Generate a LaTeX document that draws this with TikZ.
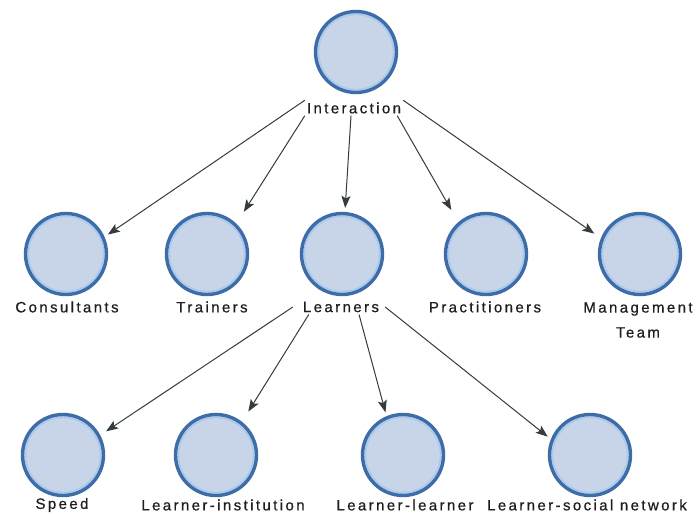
\documentclass[tikz,border=0pt]{standalone}
\usepackage{fontspec}
\setmainfont{Liberation Sans}[LetterSpace=16,FakeBold=0.6]
\usetikzlibrary{arrows.meta}
\definecolor{bubfill}{RGB}{200,213,232}
\definecolor{bubedge}{RGB}{62,108,166}
\definecolor{bubring}{RGB}{168,202,238}
\definecolor{arrowc}{RGB}{52,60,62}
\definecolor{txt}{RGB}{30,30,30}
\begin{document}
\begin{tikzpicture}[x=1pt,y=-1pt,
  bub/.style={circle, minimum size=81pt, inner sep=0pt, fill=bubfill, draw=bubedge, line width=3.4pt,
    path picture={\draw[bubring, line width=1.6pt] (path picture bounding box.center) circle (37.6pt);}},
  lab/.style={font=\fontsize{15}{17}\selectfont, text=txt, inner sep=2pt, align=center},
  arr/.style={draw=arrowc, line width=1pt, -{Stealth[length=12pt,width=9pt,inset=2.5pt]}}
]
\useasboundingbox (0,0) rectangle (697,516);
\fill[white] (0,0) rectangle (697,516);

% circles
\node[bub] (int) at (356,52) {};
\node[bub] (con) at (66,254) {};
\node[bub] (tra) at (207,254) {};
\node[bub] (lea) at (342,254) {};
\node[bub] (pra) at (486,254) {};
\node[bub] (man) at (640,254) {};
\node[bub] (spe) at (63,455) {};
\node[bub] (lin) at (216,455) {};
\node[bub] (lle) at (403,455) {};
\node[bub] (lsn) at (590,455) {};

% labels
\node[lab] (intl) at (354,108) {Interaction};
\node[lab] (conl) at (67,307) {Consultants};
\node[lab] (tral) at (212,307) {Trainers};
\node[lab] (leal) at (341,307) {Learners};
\node[lab] (pral) at (485,307) {Practitioners};
\node[lab] (manl) at (638,320) {Management\\[8pt]Team};
\node[lab, inner sep=1pt] (spel) at (62,505) {Speed};
\node[lab, inner sep=1pt] (linl) at (223,505) {Learner-institution};
\node[lab, inner sep=1pt] (llel) at (405,505) {Learner-learner};
\node[lab, inner sep=1pt] (lsnl) at (587,505) {Learner-social network};

% arrows from Interaction
\draw[arr, shorten >=4pt] (intl.north west) -- (con.24);
\draw[arr, shorten >=14pt] (intl.south west) -- (tra.46);
\draw[arr, shorten >=4pt] ([xshift=-3pt]intl.south) -- (lea.86);
\draw[arr, shorten >=14pt] ([xshift=-6pt]intl.south east) -- (pra.131);
\draw[arr, shorten >=8pt] (intl.north east) -- (man.158);

% arrows from Learners
\draw[arr, shorten >=7pt] ([xshift=-8pt]leal.west) -- (spe.28);
\draw[arr, shorten >=12pt] ([xshift=8pt]leal.south west) -- (lin.52);
\draw[arr, shorten >=4pt] ([xshift=18pt]leal.south) -- (lle.113);
\draw[arr, shorten >=4pt] ([xshift=4pt]leal.east) -- (lsn.158);
\end{tikzpicture}
\end{document}
